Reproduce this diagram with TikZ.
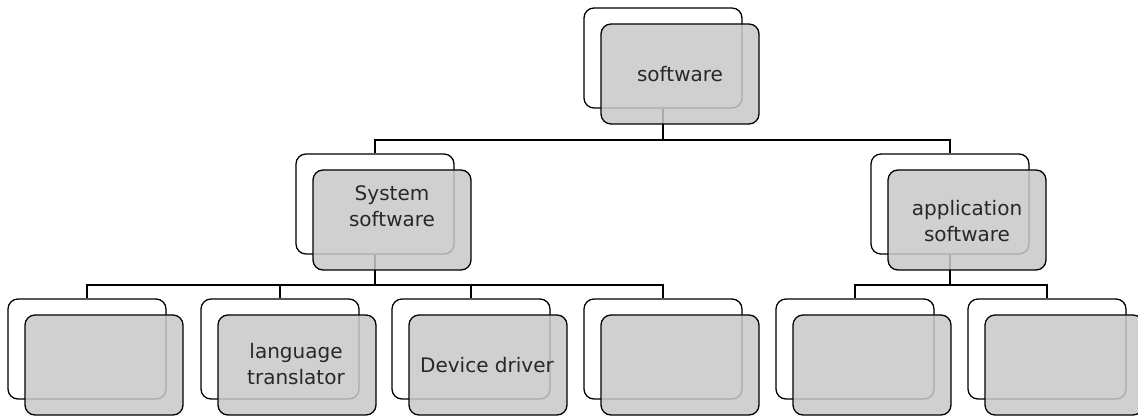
\documentclass[tikz,border=0pt]{standalone}
\usepackage{fontspec}
\setmainfont{DejaVu Sans}
\definecolor{boxgray}{RGB}{200,200,200}
\definecolor{txt}{RGB}{40,40,40}
\tikzset{
  backbox/.style={draw=black, line width=1.3pt, fill=white, rounded corners=10pt,
    minimum width=158pt, minimum height=100pt, inner sep=0pt},
  frontbox/.style={draw=black, line width=1.3pt, fill=boxgray, fill opacity=0.85,
    text opacity=1, rounded corners=10pt,
    minimum width=158pt, minimum height=100pt, inner sep=0pt},
  lbl/.style={align=center, text=txt, font=\fontsize{20}{26}\selectfont, inner sep=0pt},
  conn/.style={draw=black, line width=1.3pt}
}
\begin{document}
\begin{tikzpicture}[x=1pt,y=-1pt]
\useasboundingbox (0,0) rectangle (1138,419);
% back boxes
\node[backbox] (top) at (663,58) {};
\node[backbox] (sys) at (375,204) {};
\node[backbox] (app) at (950,204) {};
\node[backbox] (b1) at (87,349) {};
\node[backbox] (b2) at (280,349) {};
\node[backbox] (b3) at (471,349) {};
\node[backbox] (b4) at (663,349) {};
\node[backbox] (b5) at (855,349) {};
\node[backbox] (b6) at (1047,349) {};
% buses
\coordinate (busA) at (0,140);
\coordinate (busB) at (0,285);
% connectors
\draw[conn] (top.south) -- (top.south |- busA) -| (sys.north);
\draw[conn] (top.south |- busA) -| (app.north);
\draw[conn] (sys.south) -- (sys.south |- busB) -| (b1.north);
\draw[conn] (sys.south |- busB) -| (b2.north);
\draw[conn] (sys.south |- busB) -| (b3.north);
\draw[conn] (sys.south |- busB) -| (b4.north);
\draw[conn] (app.south) -- (app.south |- busB) -| (b5.north);
\draw[conn] (app.south |- busB) -| (b6.north);
% front boxes
\node[frontbox] (ftop) at (680,74) {};
\node[frontbox] (fsys) at (392,220) {};
\node[frontbox] (fapp) at (967,220) {};
\node[frontbox] (f1) at (104,365) {};
\node[frontbox] (f2) at (297,365) {};
\node[frontbox] (f3) at (488,365) {};
\node[frontbox] (f4) at (680,365) {};
\node[frontbox] (f5) at (872,365) {};
\node[frontbox] (f6) at (1064,365) {};
% labels
\node[lbl] (tsoft) at (680,74) {software};
\node[lbl] (tsys) at (392,206) {System\\software};
\node[lbl] (tapp) at (967,221) {application\\software};
\node[lbl] (tlang) at (296,364) {language\\translator};
\node[lbl] (tdev) at (487,365) {Device driver};
\end{tikzpicture}
\end{document}
